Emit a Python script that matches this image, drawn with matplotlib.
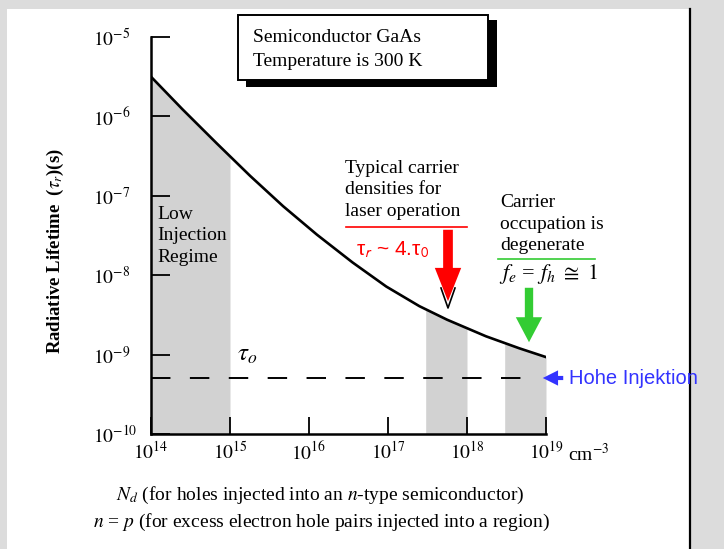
import matplotlib.pyplot as plt
import numpy as np
from matplotlib.patches import Rectangle, FancyArrowPatch
from matplotlib.ticker import NullLocator

plt.rcParams['font.family'] = ['Liberation Serif', 'DejaVu Serif']
plt.rcParams['mathtext.fontset'] = 'stix'

# carrier density (cm^-3) vs radiative lifetime (s)
density = [1e14, 2.5e14, 6.8e14, 1.8e15, 4.7e15, 1.26e16, 3.55e16,
           9.5e16, 2.5e17, 5.6e17, 1.74e18, 4.6e18, 1e19]
lifetime = [3.16e-6, 1.23e-6, 4.57e-7, 1.78e-7, 7.4e-8, 3.24e-8, 1.45e-8,
            7.2e-9, 4.07e-9, 2.75e-9, 1.7e-9, 1.2e-9, 9.3e-10]

tau0 = 5.1e-10
tau0_end = 6.3e18

# shaded density ranges
low_band = (1e14, 1e15)
laser_band = (3e17, 1e18)
degen_band = (3e18, 1e19)

xticks = [1e14, 1e15, 1e16, 1e17, 1e18, 1e19]
xlabels = [r'$10^{14}$', r'$10^{15}$', r'$10^{16}$', r'$10^{17}$', r'$10^{18}$', r'$10^{19}$']
yticks = [1e-10, 1e-9, 1e-8, 1e-7, 1e-6, 1e-5]
ylabels = [r'$10^{-10}$', r'$10^{-9}$', r'$10^{-8}$', r'$10^{-7}$', r'$10^{-6}$', r'$10^{-5}$']

W, H = 724, 549


def P(x, y):
    # image pixel -> figure fraction
    return (x / W, 1 - y / H)


fig = plt.figure(figsize=(W / 100, H / 100), dpi=100)
fig.patch.set_facecolor('#dcdcdc')
fig.patches.append(Rectangle(P(7, 549), 683 / W, 540 / H, transform=fig.transFigure,
                             facecolor='white', edgecolor='none', zorder=-5))
fig.add_artist(plt.Line2D([690 / W, 690 / W], [0, 1 - 9 / H], transform=fig.transFigure,
                          color='black', lw=1.6, zorder=1))

ax = fig.add_axes([151 / W, 1 - 434 / H, 395 / W, 397 / H])
ax.set_facecolor('none')
ax.set_xscale('log')
ax.set_yscale('log')
ax.set_xlim(1e14, 1e19)
ax.set_ylim(1e-10, 1e-5)

# shading under the curve
lx = np.log10(density)
ly = np.log10(lifetime)
for a, b in (low_band, laser_band, degen_band):
    xs = np.linspace(np.log10(a), np.log10(b), 40)
    ax.fill_between(10 ** xs, 1e-10, 10 ** np.interp(xs, lx, ly),
                    color='#d2d2d2', lw=0, zorder=1)

ax.plot(density, lifetime, color='black', lw=1.9, zorder=3, solid_joinstyle='round')
ax.plot([1e14, tau0_end], [tau0, tau0], color='black', lw=1.4,
        linestyle=(0, (10, 10)), zorder=3)

ax.set_xticks(xticks)
ax.set_xticklabels(xlabels)
ax.set_yticks(yticks)
ax.set_yticklabels(ylabels)
ax.xaxis.set_minor_locator(NullLocator())
ax.yaxis.set_minor_locator(NullLocator())
ax.tick_params(axis='y', direction='in', length=14, width=1.3, pad=42, labelsize=14)
ax.tick_params(axis='x', direction='in', length=12, width=1.3, pad=5, labelsize=14)
for lbl in ax.get_yticklabels():
    lbl.set_horizontalalignment('left')
for s in ('top', 'right'):
    ax.spines[s].set_visible(False)
for s in ('left', 'bottom'):
    ax.spines[s].set_linewidth(1.8)

fig.text(*P(568, 454), r'cm$^{-3}$', fontsize=14, va='center', ha='left')

# y label
fig.text(*P(55, 251), r'Radiative Lifetime  ($\tau_r$)(s)', rotation=90, fontsize=13.5,
         fontweight='bold', ha='center', va='center')

# bottom labels
fig.text(*P(320, 495), r'$N_d$ (for holes injected into an $n$-type semiconductor)',
         fontsize=14, ha='center', va='center')
fig.text(*P(321, 522), r'$n$ = $p$ (for excess electron hole pairs injected into a region)',
         fontsize=14, ha='center', va='center')

# info box with shadow
fig.patches.append(Rectangle(P(246, 87), 251 / W, 67 / H, transform=fig.transFigure,
                             facecolor='black', edgecolor='none', zorder=4))
fig.patches.append(Rectangle(P(238, 80), 250 / W, 65 / H, transform=fig.transFigure,
                             facecolor='white', edgecolor='black', lw=1.4, zorder=5))
fig.text(*P(253, 38), 'Semiconductor GaAs', fontsize=14, va='center', zorder=6)
fig.text(*P(253, 62), 'Temperature is 300 K', fontsize=14, va='center', zorder=6)

# annotations
fig.text(*P(157, 236), 'Low\nInjection\nRegime', fontsize=14, va='center',
         linespacing=1.34, zorder=6)
fig.text(*P(237, 355), r'$\tau_{o}$', fontsize=18, va='center')

fig.text(*P(345, 190), 'Typical carrier\ndensities for\nlaser operation', fontsize=14,
         va='center', linespacing=1.34)
fig.add_artist(plt.Line2D([346 / W, 467 / W], [1 - 227 / H] * 2, transform=fig.transFigure,
                          color='red', lw=1.2))
fig.text(*P(356, 250), r'τ$_\mathsf{r}$ ~ 4.τ$_\mathsf{0}$', color='red', fontsize=15,
         va='center', family=['Liberation Sans', 'DejaVu Sans'])
fig.add_artist(plt.Line2D([441 / W, 448 / W, 455 / W], [1 - 288 / H, 1 - 308 / H, 1 - 288 / H],
                          transform=fig.transFigure, color='black', lw=1.2, zorder=6))
fig.add_artist(FancyArrowPatch(P(448, 227), P(448, 304), transform=fig.transFigure,
                               arrowstyle='simple,head_length=24,head_width=19,tail_width=7',
                               mutation_scale=1, color='red', lw=0, zorder=7))

fig.text(*P(500, 224), 'Carrier\noccupation is\ndegenerate', fontsize=14, va='center',
         linespacing=1.34)
fig.add_artist(plt.Line2D([498 / W, 595 / W], [1 - 259 / H] * 2, transform=fig.transFigure,
                          color='#33cc33', lw=1.2))
fig.text(*P(499, 274), r'$f_e$ = $f_h$ $\cong$ $\mathit{1}$', fontsize=16, va='center')
fig.add_artist(FancyArrowPatch(P(529, 285), P(529, 345), transform=fig.transFigure,
                               arrowstyle='simple,head_length=18,head_width=19,tail_width=6',
                               mutation_scale=1, color='#33cc33', lw=0, zorder=7))

fig.add_artist(FancyArrowPatch(P(566, 378), P(540, 378), transform=fig.transFigure,
                               arrowstyle='simple,head_length=11,head_width=11,tail_width=3',
                               mutation_scale=1, color='#3333ff', lw=0, zorder=7))
fig.text(*P(569, 378), 'Hohe Injektion', color='#3333ff', fontsize=14.5, va='center',
         family=['Liberation Sans', 'DejaVu Sans'], zorder=8)

fig.savefig('out.png', dpi=100)
